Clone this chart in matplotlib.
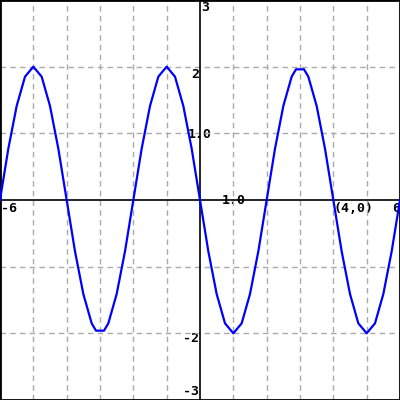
import matplotlib
matplotlib.use("Agg")
import matplotlib.pyplot as plt

# curve vertices
x_vals = [-6, -5.75, -5.5, -5.25, -5, -4.75, -4.5, -4.25, -4, -3.75, -3.5, -3.25,
          -3.12, -2.88, -2.75, -2.5, -2.25, -2, -1.75, -1.5, -1.25, -1, -0.75,
          -0.5, -0.25, 0, 0.25, 0.5, 0.75, 1, 1.25, 1.5, 1.75, 2, 2.25, 2.5,
          2.75, 2.88, 3.12, 3.25, 3.5, 3.75, 4, 4.25, 4.5, 4.75, 5, 5.25, 5.5,
          5.75, 6]
y_vals = [0, 0.77, 1.41, 1.85, 2.0, 1.85, 1.41, 0.77, 0, -0.77, -1.41, -1.85,
          -1.96, -1.96, -1.85, -1.41, -0.77, 0, 0.77, 1.41, 1.85, 2.0, 1.85,
          1.41, 0.77, 0, -0.77, -1.41, -1.85, -2.0, -1.85, -1.41, -0.77, 0,
          0.77, 1.41, 1.85, 1.96, 1.96, 1.85, 1.41, 0.77, 0, -0.77, -1.41,
          -1.85, -2.0, -1.85, -1.41, -0.77, 0]

x_grid = [-5, -4, -3, -2, -1, 1, 2, 3, 4, 5]
y_grid = [-2, -1, 1, 2]

fig = plt.figure(figsize=(4, 4), dpi=100)
ax = fig.add_axes([0, 0, 1, 1])
ax.set_xlim(-6, 6)
ax.set_ylim(-3, 3)
ax.set_xticks([])
ax.set_yticks([])

grid_kw = dict(color="#aaaaaa", linewidth=1, linestyle=(0, (4, 3)), zorder=1)
for gx in x_grid:
    ax.axvline(gx, **grid_kw)
for gy in y_grid:
    ax.axhline(gy, **grid_kw)

ax.axhline(0, color="black", linewidth=1.2, zorder=2)
ax.axvline(0, color="black", linewidth=1.2, zorder=2)

for s in ax.spines.values():
    s.set_color("black")
    s.set_linewidth(2)

ax.plot(x_vals, y_vals, color="#0000ff", linewidth=1.6, zorder=3)

lab = dict(fontsize=9.5, fontweight="bold", family="DejaVu Sans Mono",
           color="black", zorder=0.5)
# y labels
ax.text(0.03, 2.99, "3", ha="left", va="top", **lab)
ax.text(-0.03, 1.98, "2", ha="right", va="top", **lab)
ax.text(0, 0.99, "1.0", ha="center", va="center", **lab)
ax.text(-0.03, -1.98, "-2", ha="right", va="top", **lab)
ax.text(-0.03, -2.87, "-3", ha="right", va="center", **lab)
# x labels
ax.text(-5.97, -0.03, "-6", ha="left", va="top", **lab)
ax.text(1.0, -0.01, "1.0", ha="center", va="center", **lab)
ax.text(4.0, -0.03, "(4,0)", ha="left", va="top", **lab)
ax.text(6.0, -0.03, "6", ha="right", va="top", **lab)

fig.savefig("out.png", dpi=100)
